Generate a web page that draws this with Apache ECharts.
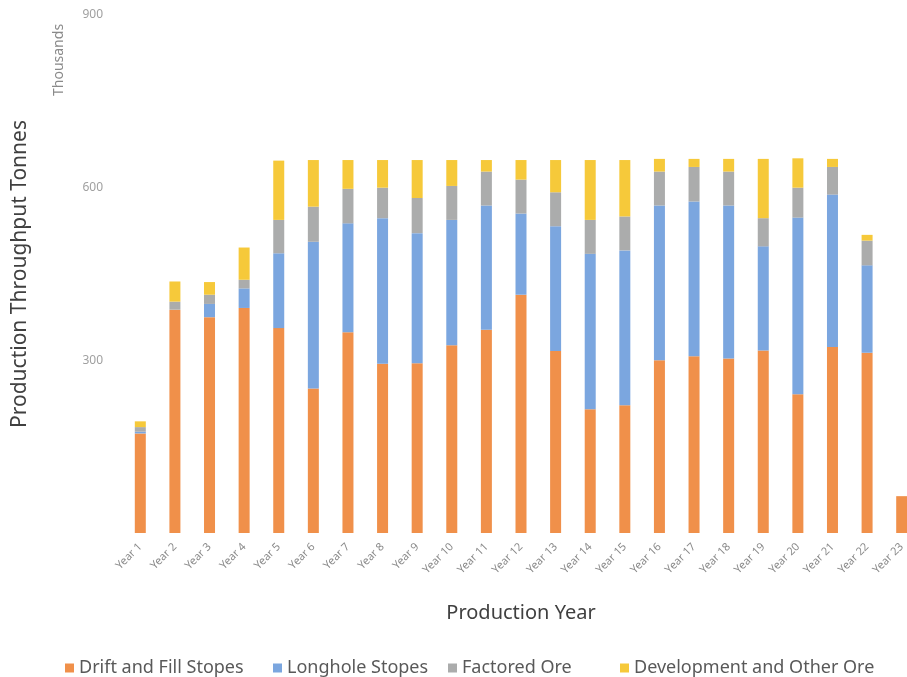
<!DOCTYPE html>
<html>
<head>
<meta charset="utf-8">
<script src="https://cdn.jsdelivr.net/npm/echarts@6/dist/echarts.min.js"></script>
<style>html,body{margin:0;padding:0;background:#fff}#c{width:907px;height:677px}</style>
</head>
<body>
<div id="c"></div>
<script>
const years = ['Year 1','Year 2','Year 3','Year 4','Year 5','Year 6','Year 7','Year 8','Year 9','Year 10','Year 11','Year 12','Year 13','Year 14','Year 15','Year 16','Year 17','Year 18','Year 19','Year 20','Year 21','Year 22','Year 23'];
const driftFill = [173,388,375,391,356,251,349,294,295,326,353,414,316,215,222,300,307,303,317,241,323,313,64];
const longhole  = [3,0,23,34,130,255,189,253,226,218,216,141,217,270,269,269,269,266,181,307,265,152,0];
const factored  = [8,14,16,15,58,61,60,53,61,59,59,59,59,59,59,59,60,59,49,52,48,43,0];
const devOther  = [10,35,22,56,103,81,50,48,66,45,20,34,56,104,98,22,14,22,103,51,14,10,0];
const yTicks = [0,300,600,900];
const seriesNames = ['Drift and Fill Stopes','Longhole Stopes','Factored Ore','Development and Other Ore'];

const font = 'Noto Sans';
const chart = echarts.init(document.getElementById('c'));
const mk = (name, data, color) => ({
  name, type: 'bar', stack: 'total', data, barWidth: 11,
  itemStyle: { color }
});
const legendLefts = [60, 268, 443, 615];
chart.setOption({
  animation: false,
  textStyle: { fontFamily: font },
  grid: { left: 123, top: 15, right: -12, bottom: 144, outerBoundsMode: 'none', containLabel: false },
  legend: seriesNames.map((n, i) => ({
    left: legendLefts[i], top: 654, icon: 'rect', itemWidth: 9, itemHeight: 9, itemGap: 6,
    textStyle: { fontSize: 18, color: '#595959', fontFamily: font },
    data: [n]
  })),
  xAxis: {
    type: 'category', data: years,
    name: 'Production Year', nameLocation: 'middle', nameGap: 70,
    nameTextStyle: { fontSize: 20, color: '#404040' },
    axisLine: { show: false }, axisTick: { show: false },
    axisLabel: { rotate: 45, fontSize: 11, color: '#8a8a8a', margin: 12, interval: 0 }
  },
  yAxis: {
    type: 'value', min: 0, max: 900, interval: 300,
    name: 'Production Throughput Tonnes', nameLocation: 'middle', nameGap: 92,
    nameTextStyle: { fontSize: 21, color: '#404040' },
    splitLine: { show: false }, axisLine: { show: false }, axisTick: { show: false },
    axisLabel: { fontSize: 12, color: '#a0a0a0', margin: 20,
      formatter: v => (yTicks.indexOf(v) > 0 ? String(v) : '') }
  },
  graphic: [{
    type: 'text', x: 52, y: 96, rotation: Math.PI / 2,
    style: { text: 'Thousands', fontSize: 14, fill: '#8a8a8a', fontFamily: font }
  }],
  series: [
    mk(seriesNames[0], driftFill, '#F0904A'),
    mk(seriesNames[1], longhole, '#7BA6DF'),
    mk(seriesNames[2], factored, '#ABACAC'),
    mk(seriesNames[3], devOther, '#F6C93A')
  ]
});
</script>
</body>
</html>
